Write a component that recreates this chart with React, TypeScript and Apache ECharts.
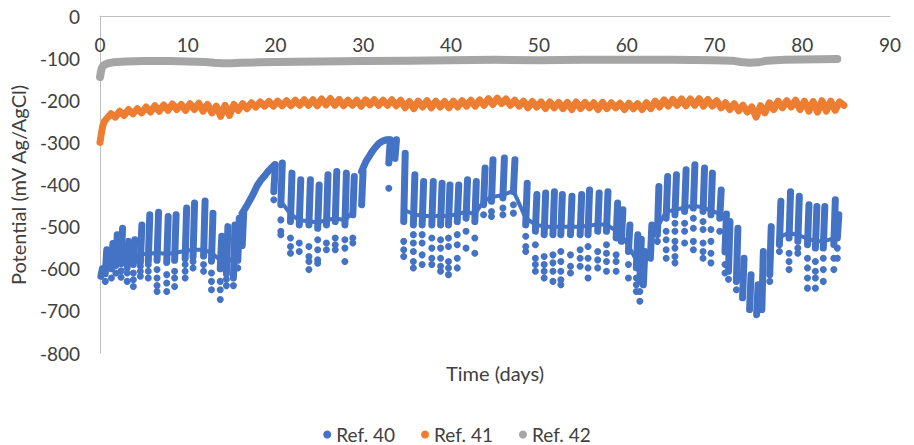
import React, { useEffect, useRef } from "react";
import * as echarts from "echarts";

// ---- Ref. 42 (gray) : [day, potential] ----
const grayPoints: [number, number][] = [
  [0, -145], [0.1, -133], [0.2, -124], [0.4, -117], [0.7, -114], [1, -112], [1.5, -110], [2, -109],
  [3, -108], [5, -107], [8, -107], [10, -108], [12, -109], [13, -111], [14, -112], [15, -112],
  [16, -111], [18, -110], [20, -109], [25, -108], [30, -107], [35, -106], [40, -105], [45, -104],
  [50, -105], [55, -104], [60, -104], [65, -104], [70, -105], [72, -106], [73, -109], [74, -111],
  [75, -110], [76, -106], [78, -104], [80, -103], [84, -102],
];

// ---- Ref. 41 (orange) ----
const orangeStart: [number, number][] = [[0, -300], [0.15, -280], [0.3, -262], [0.5, -250], [0.75, -244]];
// daily peaks (day k + 0.25) and troughs (day k + 0.75), k = 1..84
const orangePeak = [
  -232, -226, -222, -220, -216, -213, -211, -209, -210, -208, -207, -210, -214, -212, -210, -208,
  -206, -204, -203, -202, -201, -200, -199, -199, -197, -196, -198, -200, -200, -199, -199, -200,
  -199, -200, -203, -202, -201, -202, -203, -202, -201, -200, -199, -196, -195, -197, -200, -202,
  -203, -204, -204, -205, -205, -204, -205, -206, -205, -206, -207, -207, -208, -206, -202, -199,
  -198, -197, -197, -196, -198, -201, -206, -208, -212, -216, -213, -206, -202, -201, -200, -202,
  -203, -201, -202, -204,
];
const orangeTrough = [
  -240, -236, -232, -230, -228, -226, -224, -222, -224, -222, -226, -230, -238, -236, -224, -220,
  -216, -214, -214, -213, -213, -212, -212, -213, -211, -212, -213, -212, -214, -211, -212, -212,
  -213, -218, -220, -216, -218, -216, -218, -216, -214, -214, -212, -210, -208, -212, -214, -218,
  -216, -220, -218, -220, -222, -220, -218, -222, -220, -218, -222, -220, -222, -220, -216, -214,
  -212, -213, -212, -214, -214, -218, -222, -225, -228, -240, -230, -222, -218, -216, -222, -226,
  -228, -226, -224, -212,
];

// ---- Ref. 40 (blue) : daily streaks ----
const blueDay = [
  0.1, 0.6, 1.3, 1.8, 2.4, 3.1, 3.8, 4.6, 5.5, 6.5, 7.6, 8.5, 9.7, 10.6, 11.8, 12.7, 13.7, 14.4, 15.2, 15.7, 16.2,
  19.8, 20.6, 21.7, 22.7, 23.8, 24.8, 25.8, 26.8, 27.9, 28.8, 29.8,
  32.9, 33.6, 34.6, 35.7, 36.7, 37.8, 38.8, 39.7, 40.7, 41.7, 42.7, 43.7, 44.6, 45.9, 47.1,
  48.5, 49.6, 50.6, 51.6, 52.5, 53.6, 54.7, 55.6, 56.7, 57.7, 58.8, 59.4, 60.2, 61.1, 61.5, 61.9, 62.7,
  63.5, 64.5, 65.5, 66.6, 67.6, 68.7, 69.6, 70.6, 71.2, 71.6, 72.5, 73.2, 74.0, 74.8, 75.4, 76.3,
  77.4, 78.5, 79.5, 80.6, 81.5, 82.4, 83.6, 84.0,
];
const blueHigh = [
  -600, -555, -540, -519, -504, -535, -531, -496, -472, -466, -476, -472, -456, -444, -439, -468, -523, -500, -496, -480, -468,
  -353, -349, -373, -389, -389, -401, -377, -369, -373, -381, -369,
  -294, -294, -326, -377, -393, -393, -397, -401, -401, -389, -393, -361, -341, -337, -341,
  -397, -424, -420, -417, -424, -428, -424, -413, -420, -417, -444, -460, -496, -519, -530, -559, -496,
  -405, -381, -377, -365, -353, -361, -373, -413, -470, -488, -504, -575, -614, -638, -559, -500,
  -440, -417, -428, -448, -452, -452, -436, -472,
];
const blueLow = [
  -618, -612, -600, -592, -588, -592, -590, -585, -582, -580, -585, -580, -576, -572, -570, -582, -600, -612, -622, -580, -545,
  -417, -448, -488, -496, -496, -504, -496, -488, -496, -472, -448,
  -349, -338, -488, -496, -496, -496, -496, -496, -488, -480, -488, -448, -440, -432, -417,
  -496, -511, -519, -519, -519, -519, -519, -519, -511, -511, -527, -535, -559, -598, -630, -638, -575,
  -519, -480, -472, -464, -456, -464, -472, -480, -560, -606, -630, -669, -697, -709, -697, -614,
  -543, -527, -535, -543, -551, -551, -543, -527,
];
// level of the band that joins neighbouring streaks (null = no band)
const blueBase = [
  -612, -590, -580, -575, -570, -575, -572, -565, -565, -562, -565, -562, -558, -555, -555, -562, -580, -585, -575, -560, -540,
  null, -440, -470, -485, -487, -490, -485, -480, -485, -465, null,
  null, null, -460, -470, -475, -475, -475, -475, -470, -465, -470, -440, -430, -425, -415,
  -480, -495, -500, -500, -500, -500, -500, -498, -495, -495, -510, -520, -545, -580, null, null, null,
  -500, -465, -460, -455, -450, -455, -462, -470, null, null, null, null, null, null, null, null,
  -525, -515, -520, -528, -535, -535, -528, -515,
];
// scattered lower readings under each streak
const blueDots: number[][] = [
  [], [-630], [-622], [-610], [-605, -620], [-598, -610, -630], [-610, -626, -642], [-594, -606, -618],
  [-590, -606, -622], [-602, -622, -640, -654], [-614, -634, -654], [-606, -622, -642], [-590, -606, -622],
  [-583, -598], [-590, -606], [-610, -630, -650], [-630, -650, -673], [-625, -640], [-640], [-598], [],
  [-436], [-484, -511, -519], [-527, -547, -563], [-539, -559], [-547, -571, -583, -602], [-531, -555, -579, -587],
  [-539, -555], [-527, -543, -555], [-531, -551, -583], [-527, -539], [],
  [-409], [], [-535, -555, -571], [-519, -539, -559, -583, -598], [-519, -539, -567, -590], [-527, -551, -575, -590],
  [-531, -551, -575, -594, -606], [-527, -547, -583, -598, -614], [-519, -543, -575, -598], [-511, -551], [-527, -563],
  [-472], [-464, -476], [-456, -472], [-448, -468],
  [-523, -547, -559], [-543, -575, -590, -606], [-571, -590, -606, -622], [-567, -586, -606, -630],
  [-559, -583, -606, -626, -638], [-567, -594, -610], [-555, -575, -594], [-547, -575, -598, -622],
  [-559, -579, -598], [-543, -563, -583, -606], [-567, -583, -606], [], [-590, -622], [-622, -638, -654],
  [-654, -677], [], [],
  [-535], [-511, -531, -555, -575], [-492, -511, -535, -551, -571, -586], [-492, -511, -539], [-480, -504, -535, -555],
  [-488, -507, -539, -559, -575], [-507, -535, -563, -586], [-511], [-590, -610], [-625], [-650], [], [], [], [], [-630],
  [-559], [-563, -583, -602], [-551, -563], [-575, -598, -622, -646], [-583, -606, -622, -646], [-575, -602, -630],
  [-575, -602], [-551, -575],
];
// smooth rising stretches
const blueRiseA: [number, number][] = [
  [16.2, -468], [16.6, -455], [17.0, -440], [17.4, -425], [17.9, -403], [18.3, -390], [18.7, -381], [19.1, -370], [19.5, -361], [19.9, -353],
];
const blueRiseB: [number, number][] = [
  [29.8, -369], [30.3, -345], [30.7, -332], [31.0, -322], [31.4, -311], [31.8, -302], [32.2, -297], [32.6, -294], [32.9, -294],
];

const xTicks = { min: 0, max: 90, interval: 10 };
const yTicks = { min: -800, max: 0, interval: 100 };

const BLUE = "#4472C4";
const ORANGE = "#ED7D31";
const GRAY = "#A5A5A5";
const TEXT = "#404040";
const FONT = "Lato";

export default function App() {
  const ref = useRef<HTMLDivElement>(null);
  useEffect(() => {
    document.body.style.margin = "0";
    if (!ref.current) return;
    const chart = echarts.init(ref.current, undefined, { renderer: "svg" });

    const orangeData: [number, number][] = [...orangeStart];
    orangePeak.forEach((p, i) => {
      orangeData.push([i + 1.25, p]);
      orangeData.push([i + 1.75, orangeTrough[i]]);
    });
    const streaks = blueDay.map((d, i) => [d, blueLow[i], blueHigh[i]]);
    const base = blueDay.map((d, i) => [d, blueBase[i]]);
    const dots: [number, number][] = [];
    blueDots.forEach((arr, i) => arr.forEach((v) => dots.push([blueDay[i], v])));

    chart.setOption({
      animation: false,
      textStyle: { fontFamily: FONT },
      grid: { left: 100, right: 24, top: 16, bottom: 92 },
      legend: {
        data: [
          { name: "Ref. 40", itemStyle: { color: BLUE } },
          { name: "Ref. 41", itemStyle: { color: ORANGE } },
          { name: "Ref. 42", itemStyle: { color: GRAY } },
        ],
        icon: "circle",
        itemWidth: 8,
        itemHeight: 8,
        itemGap: 26,
        left: "center",
        top: 420,
        textStyle: { fontSize: 19, color: TEXT, fontFamily: FONT },
      },
      xAxis: {
        type: "value",
        position: "top",
        ...xTicks,
        axisLine: { onZero: false, lineStyle: { color: "#BFBFBF", width: 1 } },
        axisTick: { show: false },
        splitLine: { show: false },
        axisLabel: { inside: true, fontSize: 19, color: TEXT, margin: 19, fontFamily: FONT },
      },
      yAxis: {
        type: "value",
        ...yTicks,
        axisLine: { show: true, lineStyle: { color: "#BFBFBF", width: 1 } },
        axisTick: { show: false },
        splitLine: { show: false },
        axisLabel: { fontSize: 19, color: TEXT, margin: 20, fontFamily: FONT },
      },
      graphic: [
        {
          type: "text",
          x: 495,
          y: 373,
          style: { text: "Time (days)", fontSize: 20, fill: TEXT, fontFamily: FONT, textAlign: "center", textVerticalAlign: "middle" },
        },
        {
          type: "text",
          x: 18,
          y: 185,
          rotation: Math.PI / 2,
          style: { text: "Potential (mV Ag/AgCl)", fontSize: 20, fill: TEXT, fontFamily: FONT, textAlign: "center", textVerticalAlign: "middle" },
        },
      ],
      series: [
        {
          name: "Ref. 40",
          type: "custom",
          itemStyle: { color: BLUE },
          data: streaks,
          encode: { x: 0, y: [1, 2] },
          renderItem: (params: any, api: any) => {
            const a = api.coord([api.value(0), api.value(1)]);
            const b = api.coord([api.value(0), api.value(2)]);
            return {
              type: "line",
              shape: { x1: a[0], y1: a[1], x2: b[0] + 1.5, y2: b[1] },
              style: { stroke: BLUE, lineWidth: 7, lineCap: "round" },
            };
          },
        },
        {
          name: "Ref. 40",
          type: "line",
          data: base,
          symbol: "none",
          connectNulls: false,
          itemStyle: { color: BLUE },
          lineStyle: { color: BLUE, width: 4 },
        },
        {
          name: "Ref. 40",
          type: "line",
          data: blueRiseA,
          symbol: "none",
          itemStyle: { color: BLUE },
          lineStyle: { color: BLUE, width: 7, cap: "round" },
        },
        {
          name: "Ref. 40",
          type: "line",
          data: blueRiseB,
          symbol: "none",
          itemStyle: { color: BLUE },
          lineStyle: { color: BLUE, width: 7, cap: "round" },
        },
        {
          name: "Ref. 40",
          type: "scatter",
          data: dots,
          symbolSize: 7,
          itemStyle: { color: BLUE, opacity: 1 },
        },
        {
          name: "Ref. 41",
          type: "line",
          data: orangeData,
          symbol: "none",
          itemStyle: { color: ORANGE },
          lineStyle: { color: ORANGE, width: 7, cap: "round", join: "round" },
        },
        {
          name: "Ref. 42",
          type: "line",
          data: grayPoints,
          symbol: "none",
          itemStyle: { color: GRAY },
          lineStyle: { color: GRAY, width: 8, cap: "round", join: "round" },
        },
      ],
    });
    return () => chart.dispose();
  }, []);
  return <div ref={ref} style={{ width: 914, height: 445 }} />;
}
